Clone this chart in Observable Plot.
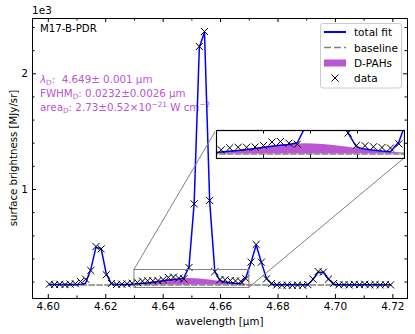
<!DOCTYPE html>
<html><head><meta charset="utf-8">
<script src="https://cdn.jsdelivr.net/npm/d3@7"></script>
<script src="https://cdn.jsdelivr.net/npm/@observablehq/plot@0.6"></script>
<style>
body{margin:0;background:#fff;}
#wrap{position:relative;width:415px;height:334px;font-family:"DejaVu Sans",sans-serif;}
#wrap svg{position:absolute;}
</style></head><body><div id="wrap"></div>
<script>
// ---- data (y in units of 1e3 MJy/sr) ----
const wavelength = [4.6004,4.6022,4.6040,4.6058,4.6076,4.6094,4.6112,4.6130,4.6148,4.6166,
  4.6184,4.6202,4.6220,4.6238,4.6256,4.6274,4.6292,4.6310,4.6328,4.6346,
  4.6364,4.6382,4.6400,4.6418,4.6436,4.6454,4.6472,4.6490,4.6508,4.6526,
  4.6544,4.6562,4.6580,4.6598,4.6616,4.6634,4.6652,4.6670,4.6688,4.6706,
  4.6724,4.6742,4.6760,4.6778,4.6796,4.6814,4.6832,4.6850,4.6868,4.6886,
  4.6904,4.6922,4.6940,4.6958,4.6976,4.6994,4.7012,4.7030,4.7048,4.7066,
  4.7084,4.7102,4.7120,4.7138,4.7156,4.7174,4.7192];
const data = [0.182,0.179,0.181,0.178,0.182,0.186,0.205,0.225,0.300,0.507,
  0.487,0.263,0.188,0.180,0.182,0.185,0.190,0.197,0.208,0.211,
  0.211,0.213,0.221,0.240,0.243,0.234,0.228,0.326,0.876,2.236,
  2.366,0.905,0.290,0.222,0.220,0.214,0.210,0.207,0.230,0.372,
  0.525,0.372,0.228,0.188,0.176,0.172,0.175,0.171,0.174,0.172,
  0.178,0.225,0.291,0.286,0.226,0.188,0.176,0.178,0.175,0.180,
  0.177,0.181,0.176,0.179,0.175,0.178,0.176];
const fit = [0.178,0.178,0.178,0.178,0.178,0.179,0.180,0.190,0.310,0.500,
  0.490,0.270,0.185,0.178,0.178,0.179,0.181,0.185,0.189,0.193,
  0.199,0.205,0.211,0.217,0.222,0.227,0.236,0.330,0.880,2.230,
  2.360,0.900,0.290,0.212,0.201,0.195,0.190,0.187,0.240,0.370,
  0.520,0.370,0.230,0.183,0.177,0.177,0.177,0.177,0.177,0.177,
  0.177,0.225,0.285,0.285,0.225,0.182,0.177,0.177,0.177,0.177,
  0.177,0.177,0.177,0.177,0.177,0.177,0.177];
const baseline = [0.174,0.174,0.174,0.174,0.174,0.174,0.174,0.174,0.174,0.174,
  0.174,0.174,0.174,0.174,0.174,0.174,0.174,0.174,0.174,0.174,
  0.174,0.174,0.174,0.174,0.174,0.174,0.174,0.174,0.174,0.174,
  0.174,0.174,0.174,0.174,0.174,0.174,0.174,0.174,0.174,0.174,
  0.174,0.174,0.174,0.174,0.174,0.174,0.174,0.174,0.174,0.174,
  0.174,0.174,0.174,0.174,0.174,0.174,0.174,0.174,0.174,0.174,
  0.174,0.174,0.174,0.174,0.174,0.174,0.174];
const dpah = [0,0,0,0,0,0,0.00003,0.00007,0.00013,0.00025,
  0.0004,0.0008,0.0013,0.0021,0.0033,0.0051,0.0074,0.0105,0.0145,0.0192,
  0.0247,0.0307,0.0369,0.0429,0.0482,0.0524,0.0551,0.056,0.0551,0.0524,
  0.0482,0.0429,0.0369,0.0307,0.0247,0.0192,0.0145,0.0105,0.0074,0.0051,
  0.0033,0.0021,0.0013,0.0008,0.0004,0.0002,0.0001,0,0,0,
  0,0,0,0,0,0,0,0,0,0,
  0,0,0,0,0,0,0];
const xTicks = [4.60,4.62,4.64,4.66,4.68,4.70,4.72];
const xMinor = [4.61,4.63,4.65,4.67,4.69,4.71];
const yTicks = [1,2];
const yMinor = [0.2,0.4,0.6,0.8,1.2,1.4,1.6,1.8,2.2,2.4];
const insetX = [4.63,4.67];
const insetY = [0.149,0.304];
const insetTicks = [4.64,4.65,4.66];
const legendLabels = ["total fit","baseline","D-PAHs","data"];
const title = "M17-B-PDR";

// ---- layout ----
const W=415,H=334,mL=32,mR=8,mT=18,mB=36;
const plotW=W-mL-mR, plotH=H-mT-mB;
const xDomain=[4.5945,4.7251], yDomain=[0.058,2.478];
const purple="#ba55d3", blue="#0000ff", grey="#808080";
const insetBox={left:216, top:130, width:188, height:28};

const rows = wavelength.map((w,i)=>({w, data:data[i], fit:fit[i], base:baseline[i], top:baseline[i]+dpah[i]}));
const fmt2 = d3.format(".2f");

const main = Plot.plot({
  width:W, height:H, marginLeft:mL, marginRight:mR, marginTop:mT, marginBottom:mB,
  style:{fontFamily:'"DejaVu Sans", sans-serif', fontSize:"10.5px", background:"white", color:"black", overflow:"visible"},
  x:{domain:xDomain}, y:{domain:yDomain},
  marks:[
    Plot.areaY(rows,{x:"w", y1:"base", y2:"top", fill:purple}),
    Plot.lineY(rows,{x:"w", y:"base", stroke:grey, strokeWidth:1.5, strokeDasharray:"5.5,2.4"}),
    Plot.line(rows,{x:"w", y:"fit", stroke:blue, strokeWidth:1.5}),
    Plot.dot(rows,{x:"w", y:"data", symbol:"times", r:3.3, stroke:"black", strokeWidth:1}),
    Plot.rect([{x1:insetX[0],x2:insetX[1],y1:insetY[0],y2:insetY[1]}],{x1:"x1",x2:"x2",y1:"y1",y2:"y2",stroke:grey,fill:"none",strokeWidth:1}),
    Plot.tickX(xTicks,{x:d=>d, insetTop:plotH-4, stroke:"black"}),
    Plot.tickX(xTicks,{x:d=>d, insetBottom:plotH-4, stroke:"black"}),
    Plot.tickX(xMinor,{x:d=>d, insetTop:plotH-2.5, stroke:"black"}),
    Plot.tickX(xMinor,{x:d=>d, insetBottom:plotH-2.5, stroke:"black"}),
    Plot.tickY(yTicks,{y:d=>d, insetRight:plotW-4, stroke:"black"}),
    Plot.tickY(yTicks,{y:d=>d, insetLeft:plotW-4, stroke:"black"}),
    Plot.tickY(yMinor,{y:d=>d, insetRight:plotW-2.5, stroke:"black"}),
    Plot.tickY(yMinor,{y:d=>d, insetLeft:plotW-2.5, stroke:"black"}),
    Plot.axisX({ticks:xTicks, tickSize:0, tickPadding:4.5, tickFormat:fmt2, label:null}),
    Plot.axisY({ticks:yTicks, tickSize:0, tickPadding:4.5, tickFormat:d=>String(d), label:null}),
    Plot.frame({stroke:"black", strokeWidth:1})
  ]
});

const inset = Plot.plot({
  width:insetBox.width+2, height:insetBox.height+2, margin:1,
  style:{background:"white", overflow:"hidden"},
  x:{domain:insetX, axis:null}, y:{domain:insetY, axis:null},
  marks:[
    Plot.areaY(rows,{x:"w", y1:"base", y2:"top", fill:purple, clip:true}),
    Plot.lineY(rows,{x:"w", y:"base", stroke:grey, strokeWidth:1.5, strokeDasharray:"5.5,2.4", clip:true}),
    Plot.line(rows,{x:"w", y:"fit", stroke:blue, strokeWidth:1.5, clip:true}),
    Plot.dot(rows,{x:"w", y:"data", symbol:"times", r:3.3, stroke:"black", strokeWidth:1, clip:true}),
    Plot.tickX(insetTicks,{x:d=>d, insetTop:insetBox.height-3.5, stroke:"black"}),
    Plot.tickX(insetTicks,{x:d=>d, insetBottom:insetBox.height-3.5, stroke:"black"}),
    Plot.frame({stroke:"black", strokeWidth:1.2})
  ]
});

const wrap = document.getElementById("wrap");
wrap.appendChild(main);
inset.style.left = (insetBox.left-1)+"px";
inset.style.top = (insetBox.top-1)+"px";
wrap.appendChild(inset);

// scales
let xs, ys;
try { const sx=main.scale("x"), sy=main.scale("y"); xs=v=>sx.apply(v); ys=v=>sy.apply(v); }
catch(e){ xs=d3.scaleLinear(xDomain,[mL,W-mR]); ys=d3.scaleLinear(yDomain,[H-mB,mT]); }

const svg = d3.select(main);
const FF = '"DejaVu Sans", sans-serif';

// annotation under everything
const ann = svg.insert("g", ":scope > style + *").attr("fill", purple).attr("font-family",FF).attr("font-size","10.3px").attr("text-anchor","start");
function rich(y, parts){
  const t = ann.append("text").attr("x", mL+8).attr("y", y).attr("text-anchor","start");
  let shift = 0;
  parts.forEach(p=>{
    const s = t.append("tspan").text(p.t);
    let target = p.sub ? 2.5 : p.sup ? -4 : 0;
    if (target !== shift) { s.attr("dy", target-shift); shift = target; }
    if (p.sub || p.sup) s.attr("font-size","7.3px");
    if (p.it) s.attr("font-style","italic");
  });
}
rich(82.5,[{t:"λ",it:true},{t:"D",sub:true},{t:":  4.649± 0.001 μm"}]);
rich(96.5,[{t:"FWHM"},{t:"D",sub:true},{t:": 0.0232±0.0026 μm"}]);
rich(110.5,[{t:"area"},{t:"D",sub:true},{t:": 2.73±0.52×10"},{t:"−21",sup:true},{t:" W cm"},{t:"−2",sup:true}]);

// connectors from zoom rectangle to inset
const over = svg.append("g").attr("stroke",grey).attr("stroke-width",1).attr("fill","none");
over.append("line").attr("x1",xs(insetX[0])).attr("y1",ys(insetY[1])).attr("x2",insetBox.left).attr("y2",insetBox.top);
over.append("line").attr("x1",xs(insetX[1])).attr("y1",ys(insetY[0])).attr("x2",insetBox.left+insetBox.width).attr("y2",insetBox.top+insetBox.height);

// texts
svg.append("text").attr("x",mL).attr("y",mT-4).attr("text-anchor","start").attr("font-family",FF).attr("font-size","10.5px").attr("fill","black").text("1e3");
svg.append("text").attr("x",mL+8).attr("y",mT+14).attr("text-anchor","start").attr("font-family",FF).attr("font-size","10.2px").attr("fill","black").text(title);
svg.append("text").attr("x",mL+plotW/2).attr("y",H-9).attr("text-anchor","middle").attr("font-family",FF).attr("font-size","10.3px").attr("fill","black").text("wavelength [μm]");
svg.append("text").attr("transform",`translate(13,${mT+plotH/2}) rotate(-90)`).attr("text-anchor","middle").attr("dominant-baseline","central").attr("font-family",FF).attr("font-size","10.2px").attr("fill","black").text("surface brightness [MJy/sr]");

// legend
const lg = svg.append("g").attr("font-family",FF).attr("font-size","10.5px").attr("text-anchor","start");
lg.append("rect").attr("x",320.5).attr("y",23.5).attr("width",81).attr("height",64.5).attr("rx",2.5).attr("fill","white").attr("fill-opacity",0.8).attr("stroke","#cccccc");
const ly = [32,47.5,63,78];
lg.append("line").attr("x1",324).attr("x2",346).attr("y1",ly[0]).attr("y2",ly[0]).attr("stroke",blue).attr("stroke-width",2);
lg.append("line").attr("x1",324).attr("x2",346).attr("y1",ly[1]).attr("y2",ly[1]).attr("stroke",grey).attr("stroke-width",1.5).attr("stroke-dasharray","7,3");
lg.append("rect").attr("x",324).attr("y",ly[2]-3.5).attr("width",22).attr("height",7).attr("fill",purple);
lg.append("path").attr("transform",`translate(335,${ly[3]})`).attr("d",d3.symbol(d3.symbolTimes, Math.PI*3.3*3.3)()).attr("stroke","black").attr("fill","none");
legendLabels.forEach((s,i)=>lg.append("text").attr("x",354).attr("y",ly[i]).attr("dominant-baseline","central").attr("text-anchor","start").attr("fill","black").text(s));
</script></body></html>
